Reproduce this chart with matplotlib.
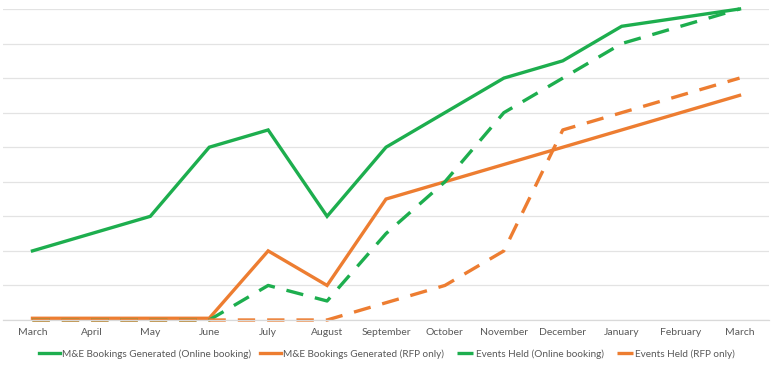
import matplotlib
matplotlib.use("Agg")
import matplotlib.pyplot as plt
from matplotlib.lines import Line2D

months = ["March", "April", "May", "June", "July", "August", "September",
          "October", "November", "December", "January", "February", "March"]
me_online = [2.0, 2.5, 3.0, 5.0, 5.5, 3.0, 5.0, 6.0, 7.0, 7.5, 8.5, 8.75, 9.0]
me_rfp = [0.05, 0.05, 0.05, 0.05, 2.0, 1.0, 3.5, 4.0, 4.5, 5.0, 5.5, 6.0, 6.5]
ev_online = [0.0, 0.0, 0.0, 0.0, 1.0, 0.55, 2.5, 4.0, 6.0, 7.0, 8.0, 8.5, 9.0]
ev_rfp = [0.0, 0.0, 0.0, 0.0, 0.0, 0.0, 0.5, 1.0, 2.0, 5.5, 6.0, 6.5, 7.0]
series_names = ["M&E Bookings Generated (Online booking)",
                "M&E Bookings Generated (RFP only)",
                "Events Held (Online booking)",
                "Events Held (RFP only)"]

GREEN = "#1DAE4E"
ORANGE = "#ED7D31"
plt.rcParams['font.family'] = ['Lato', 'DejaVu Sans']

fig = plt.figure(figsize=(7.74, 3.70), dpi=100)
ax = fig.add_axes([3/774, 50/370, 766/774, 311/370])
x = list(range(len(months)))
lw = 2.4
dash = (5.2, 3.6)
ax.plot(x, me_online, color=GREEN, lw=lw, clip_on=False, solid_joinstyle='miter')
ax.plot(x, me_rfp, color=ORANGE, lw=lw, clip_on=False, solid_joinstyle='miter')
ax.plot(x, ev_online, color=GREEN, lw=lw, clip_on=False, dashes=dash)
ax.plot(x, ev_rfp, color=ORANGE, lw=lw, clip_on=False, dashes=dash)

ax.set_xlim(-0.5, len(months) - 0.5)
ax.set_ylim(0, 9)
ax.set_yticks(range(0, 10))
ax.set_yticklabels([])
ax.tick_params(axis='y', length=0)
ax.grid(axis='y', color='#E3E3E3', lw=0.9)
ax.set_axisbelow(True)
ax.set_xticks(x)
ax.set_xticklabels(months, fontsize=7.5, color='#595959')
ax.tick_params(axis='x', length=0, pad=6)
for s in ['top', 'left', 'right']:
    ax.spines[s].set_visible(False)
ax.spines['bottom'].set_color('#D9D9D9')
ax.spines['bottom'].set_linewidth(0.9)

leg_dash = (7.3, (5.0, 3.8))
handles = [Line2D([], [], color=GREEN, lw=lw),
           Line2D([], [], color=ORANGE, lw=lw),
           Line2D([], [], color=GREEN, lw=lw, linestyle=leg_dash),
           Line2D([], [], color=ORANGE, lw=lw, linestyle=leg_dash)]
fig.legend(handles, series_names, loc='center', bbox_to_anchor=(0.5, 16/370),
           ncol=4, frameon=False, fontsize=7.2, handlelength=2.1,
           handletextpad=0.25, columnspacing=0.8, labelcolor='#595959')
fig.savefig("out.png", dpi=100)
